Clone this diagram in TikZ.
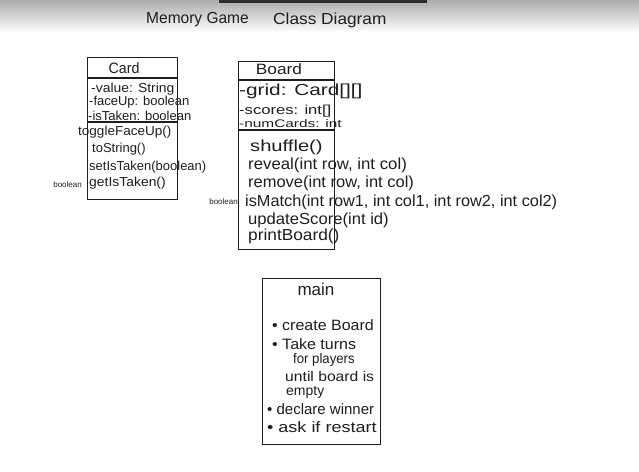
\documentclass[tikz,border=0pt]{standalone}
\usepackage{graphicx}
\usepackage{fontspec}
\setmainfont{Liberation Sans}
\definecolor{ink}{HTML}{1E1E1E}
\definecolor{bar}{HTML}{2E2E2E}
\newcommand{\hsc}[2]{\scalebox{#1}[1]{#2}}
\begin{document}
\begin{tikzpicture}[x=1pt,y=-1pt,
  box/.style={draw=ink,line width=1.1pt,inner sep=0pt,anchor=north west},
  divider/.style={draw=ink,line width=1.1pt},
  lbl/.style={text=ink,inner sep=0pt,anchor=west},
  title/.style={lbl,font=\fontsize{16}{18}\selectfont},
  head/.style={text=ink,inner sep=0pt,font=\fontsize{15}{17}\selectfont},
  attr/.style={lbl,font=\fontsize{13}{15}\selectfont},
  meth/.style={lbl,font=\fontsize{13}{15}\selectfont},
  bmeth/.style={lbl,font=\fontsize{16}{18}\selectfont},
  mtext/.style={lbl,font=\fontsize{15}{17}\selectfont},
  msmall/.style={lbl,font=\fontsize{14}{16}\selectfont},
  ret/.style={text=ink,inner sep=0pt,anchor=east,font=\fontsize{8}{9}\selectfont}]
\useasboundingbox (0,0) rectangle (639,471);
% top shadow and bar
\shade[top color=black!33, bottom color=white] (0,0) rectangle (639,32);
\fill[bar] (219,0) rectangle (427,3);

% title
\node[title] (t1) at (146,20) {\hsc{0.97}{Memory Game}};
\node[title] (t2) at (273,20) {\hsc{1.08}{Class Diagram}};

% ---------------- Card ----------------
\node[box,minimum width=90pt,minimum height=142pt] (card) at (87,57) {};
\coordinate (cd1) at (0,78);
\coordinate (cd2) at (0,122);
\draw[divider] (card.west |- cd1) -- (card.east |- cd1);
\draw[divider] (card.west |- cd2) -- (card.east |- cd2);
\node[head] (cardname) at (124,68) {\hsc{0.95}{Card}};
\node[attr] (cv) at (91,89) {\hsc{1.07}{-value: String}};
\node[attr] (cf) at (89,102) {-faceUp: boolean};
\node[attr] (ci) at (88,116) {-isTaken: boolean};
\node[meth] (cm1) at (78,132) {\hsc{1.04}{toggleFaceUp()}};
\node[meth] (cm2) at (92,149) {toString()};
\node[meth] (cm3) at (89,167) {setIsTaken(boolean)};
\node[meth] (cm4) at (89,183) {\hsc{1.07}{getIsTaken()}};
\node[ret] (cr4) at (82,185) {boolean};

% ---------------- Board ----------------
\node[box,minimum width=96pt,minimum height=188pt] (board) at (238,61) {};
\coordinate (bd1) at (0,80);
\coordinate (bd2) at (0,130);
\draw[divider] (board.west |- bd1) -- (board.east |- bd1);
\draw[divider] (board.west |- bd2) -- (board.east |- bd2);
\node[head] (boardname) at (279,69) {\hsc{1.15}{Board}};
\node[attr,font=\fontsize{16}{18}\selectfont] (bg) at (239,91) {\hsc{1.3}{-grid: Card[][]}};
\node[attr,font=\fontsize{13}{15}\selectfont] (bs) at (239,111) {\hsc{1.28}{-scores: int[]}};
\node[attr,font=\fontsize{11}{13}\selectfont] (bn) at (239,124) {\hsc{1.4}{-numCards: int}};
\node[bmeth] (bm1) at (250,147) {\hsc{1.26}{shuffle()}};
\node[bmeth] (bm2) at (248,165) {\hsc{1.05}{reveal(int row, int col)}};
\node[bmeth] (bm3) at (248,183) {\hsc{1.03}{remove(int row, int col)}};
\node[bmeth] (bm4) at (245,202) {\hsc{1.02}{isMatch(int row1, int col1, int row2, int col2)}};
\node[bmeth] (bm5) at (248,220) {\hsc{1.04}{updateScore(int id)}};
\node[bmeth] (bm6) at (248,236) {\hsc{1.08}{printBoard()}};
\node[ret] (br4) at (238,202) {boolean};

% ---------------- main ----------------
\node[box,minimum width=118pt,minimum height=166pt] (main) at (262,278) {};
\node[head,font=\fontsize{17}{19}\selectfont] (mainname) at (316,289) {main};
\node[mtext] (mb1) at (272,325) {\hsc{1.067}{• create Board}};
\node[mtext] (mb2) at (272,344) {\hsc{1.067}{• Take turns}};
\node[msmall] (mb3) at (293,360) {\hsc{0.94}{for players}};
\node[msmall] (mb4) at (285,376) {\hsc{1.12}{until board is}};
\node[msmall] (mb5) at (286,392) {empty};
\node[mtext] (mb6) at (267,409) {\hsc{1.0}{• declare winner}};
\node[mtext] (mb7) at (267,427) {\hsc{1.2}{• ask if restart}};
\end{tikzpicture}
\end{document}
